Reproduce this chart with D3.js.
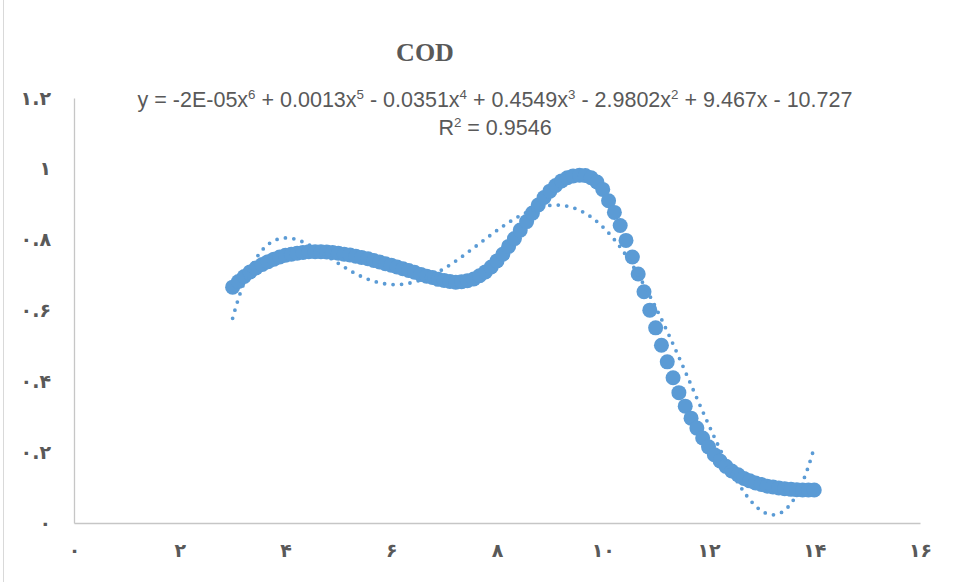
<!DOCTYPE html>
<html>
<head>
<meta charset="utf-8">
<script src="https://cdn.jsdelivr.net/npm/d3@7/dist/d3.min.js"></script>
<style>
  html, body { margin: 0; padding: 0; background: #fff; }
  svg { display: block; }
</style>
</head>
<body>
<svg id="chart" width="958" height="582"></svg>
<script>
// Sampling positions (hours) and measured COD ratio at each one
const xValues = [
  3.00, 3.11, 3.22, 3.33, 3.44, 3.56, 3.67, 3.78, 3.89,
  4.00, 4.11, 4.22, 4.33, 4.44, 4.56, 4.67, 4.78, 4.89,
  5.00, 5.11, 5.22, 5.33, 5.44, 5.56, 5.67, 5.78, 5.89,
  6.00, 6.11, 6.22, 6.33, 6.44, 6.56, 6.67, 6.78, 6.89,
  7.00, 7.11, 7.22, 7.33, 7.44, 7.56, 7.67, 7.78, 7.89,
  8.00, 8.11, 8.22, 8.33, 8.44, 8.56, 8.67, 8.78, 8.89,
  9.00, 9.11, 9.22, 9.33, 9.44, 9.56, 9.67, 9.78, 9.89,
  10.00, 10.11, 10.22, 10.33, 10.44, 10.56, 10.67, 10.78, 10.89,
  11.00, 11.11, 11.22, 11.33, 11.44, 11.56, 11.67, 11.78, 11.89,
  12.00, 12.11, 12.22, 12.33, 12.44, 12.56, 12.67, 12.78, 12.89,
  13.00, 13.11, 13.22, 13.33, 13.44, 13.56, 13.67, 13.78, 13.89,
  14.00
];
const codValues = [
  0.666, 0.682, 0.696, 0.709, 0.720, 0.730, 0.738, 0.745, 0.751,
  0.756, 0.759, 0.762, 0.764, 0.766, 0.766, 0.766, 0.765, 0.764,
  0.762, 0.759, 0.757, 0.753, 0.750, 0.746, 0.741, 0.737, 0.732,
  0.728, 0.723, 0.718, 0.713, 0.708, 0.702, 0.697, 0.693, 0.688,
  0.685, 0.682, 0.680, 0.681, 0.684, 0.689, 0.698, 0.709, 0.723,
  0.740, 0.759, 0.781, 0.803, 0.827, 0.851, 0.875, 0.898, 0.919,
  0.937, 0.953, 0.966, 0.975, 0.980, 0.982, 0.981, 0.975, 0.963,
  0.942, 0.910, 0.877, 0.840, 0.798, 0.751, 0.703, 0.653, 0.601,
  0.551, 0.502, 0.455, 0.410, 0.368, 0.330, 0.296, 0.268, 0.240,
  0.215, 0.193, 0.175, 0.160, 0.147, 0.136, 0.126, 0.119, 0.113,
  0.109, 0.104, 0.102, 0.099, 0.097, 0.095, 0.094, 0.093, 0.093,
  0.093
];

const xTicks = [0, 2, 4, 6, 8, 10, 12, 14, 16];
const xTickLabels = ["۰", "۲", "۴", "۶", "۸", "۱۰", "۱۲", "۱۴", "۱۶"];
const yTicks = [0, 0.2, 0.4, 0.6, 0.8, 1, 1.2];
const yTickLabels = ["۰", "۰.۲", "۰.۴", "۰.۶", "۰.۸", "۱", "۱.۲"];

const chartTitle = "COD";
// trendline label pieces: [text, superscript]
const trendEquation = [
  ["y = -2E-05x", "6"], [" + 0.0013x", "5"], [" - 0.0351x", "4"],
  [" + 0.4549x", "3"], [" - 2.9802x", "2"], [" + 9.467x - 10.727", null]
];
const trendR2 = [["R", "2"], [" = 0.9546", null]];

const blue = "#5b9bd5";
const textGrey = "#595959";
const axisGrey = "#c6c6c6";

const svg = d3.select("#chart");

// chart area edge
svg.append("line")
  .attr("x1", 3.5).attr("x2", 3.5).attr("y1", 0).attr("y2", 582)
  .attr("stroke", "#d9d9d9").attr("stroke-width", 1);

const plot = { left: 74, right: 920, top: 98, bottom: 523 };

const x = d3.scaleLinear().domain([0, 16]).range([plot.left, plot.right]);
const y = d3.scaleLinear().domain([0, 1.2]).range([plot.bottom, plot.top]);

// axes
const xAxis = svg.append("g")
  .attr("transform", `translate(0,${plot.bottom})`)
  .call(d3.axisBottom(x).tickValues(xTicks)
    .tickFormat((d, i) => xTickLabels[i]).tickSize(0).tickPadding(21));
const yAxis = svg.append("g")
  .attr("transform", `translate(${plot.left},0)`)
  .call(d3.axisLeft(y).tickValues(yTicks)
    .tickFormat((d, i) => yTickLabels[i]).tickSize(0).tickPadding(23));

[xAxis, yAxis].forEach(g => {
  g.select(".domain").attr("stroke", axisGrey).attr("stroke-width", 1.3);
  g.selectAll("text")
    .attr("font-family", "DejaVu Sans")
    .attr("font-size", 19)
    .attr("font-weight", "bold")
    .attr("fill", textGrey);
});

// least-squares polynomial trendline (order 6) through the measured points
function polyFit(xs, ys, order) {
  const cx = 8.5, sx = 5.5;
  const n = order + 1;
  const A = Array.from({ length: n }, () => new Array(n + 1).fill(0));
  xs.forEach((xv, k) => {
    const t = (xv - cx) / sx;
    const pw = [];
    for (let i = 0; i < 2 * n; i++) pw.push(Math.pow(t, i));
    for (let r = 0; r < n; r++) {
      for (let c = 0; c < n; c++) A[r][c] += pw[r + c];
      A[r][n] += pw[r] * ys[k];
    }
  });
  for (let c = 0; c < n; c++) {
    let p = c;
    for (let r = c + 1; r < n; r++) if (Math.abs(A[r][c]) > Math.abs(A[p][c])) p = r;
    [A[c], A[p]] = [A[p], A[c]];
    for (let r = 0; r < n; r++) {
      if (r === c) continue;
      const f = A[r][c] / A[c][c];
      for (let k = c; k <= n; k++) A[r][k] -= f * A[c][k];
    }
  }
  const coef = A.map((row, i) => row[n] / row[i]);
  return xv => {
    const t = (xv - cx) / sx;
    let s = 0;
    for (let i = n - 1; i >= 0; i--) s = s * t + coef[i];
    return s;
  };
}

const trend = polyFit(xValues, codValues, 6);
const trendPts = d3.range(0, 401).map(i => {
  const xv = 3 + (14 - 3) * i / 400;
  return [xv, trend(xv)];
});

// data markers
svg.append("g")
  .selectAll("circle")
  .data(xValues.map((xv, i) => [xv, codValues[i]]))
  .join("circle")
  .attr("cx", d => x(d[0]))
  .attr("cy", d => y(d[1]))
  .attr("r", 7.5)
  .attr("fill", blue);

svg.append("path")
  .datum(trendPts)
  .attr("d", d3.line().x(d => x(d[0])).y(d => y(d[1])))
  .attr("fill", "none")
  .attr("stroke", blue)
  .attr("stroke-width", 3.8)
  .attr("stroke-linecap", "round")
  .attr("stroke-dasharray", "0 8.5");

// title
svg.append("text")
  .attr("x", 425).attr("y", 61)
  .attr("text-anchor", "middle")
  .attr("font-family", "Liberation Serif")
  .attr("font-weight", "bold")
  .attr("font-size", 26)
  .attr("fill", textGrey)
  .text(chartTitle);

// text with raised exponents; each base run drops back to the baseline
function richLine(parts, cx, cy, size) {
  const t = svg.append("text")
    .attr("x", cx).attr("y", cy)
    .attr("text-anchor", "middle")
    .attr("font-family", "Liberation Sans")
    .attr("font-size", size)
    .attr("fill", textGrey)
    .attr("xml:space", "preserve")
    .style("white-space", "pre");
  const rise = Math.round(size * 0.38);
  let raised = false;
  parts.forEach(([base, sup]) => {
    t.append("tspan").attr("dy", raised ? rise : 0).text(base);
    raised = false;
    if (sup) {
      t.append("tspan").attr("font-size", size * 0.62).attr("dy", -rise).text(sup);
      raised = true;
    }
  });
  return t;
}

const eqSize = 21.5;
richLine(trendEquation, 495, 107, eqSize);
richLine(trendR2, 495, 135, eqSize);
</script>
</body>
</html>
